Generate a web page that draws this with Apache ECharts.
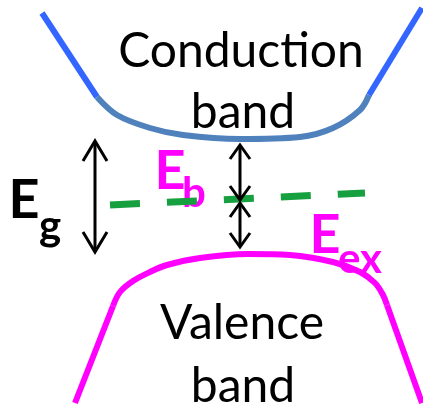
<!DOCTYPE html>
<html>
<head>
<meta charset="utf-8">
<script src="https://cdn.jsdelivr.net/npm/echarts@6/dist/echarts.min.js"></script>
<style>
  html, body { margin: 0; padding: 0; background: #fff; }
  #chart { width: 423px; height: 409px; }
</style>
</head>
<body>
<div id="chart"></div>
<script>
// band edges, in picture units (x to the right, y downwards)
const condLeft = [[42, 13], [97, 97]];
const condCurve = [[97, 97], [117, 115], [150, 128], [183, 135], [240, 139], [300, 137], [333, 128], [360, 110], [369, 95]];
const condRight = [[369, 95], [422, 8]];
const valLeft = [[75, 403], [113, 306]];
const valCurve = [[113, 306], [120, 292], [133, 281], [150, 272], [167, 265], [200, 258], [248, 254], [290, 255], [333, 262], [360, 272], [375, 283], [383, 295], [387, 305]];
const valRight = [[387, 305], [422, 403]];
// exciton level
const excitonLevel = [[110, 205], [365, 193]];
// double arrows: [x, yTop, yBottom]
const arrows = [[95, 141, 252], [240, 145, 200], [240, 203, 247]];
const arrowHeads = [[12, 20], [10, 14], [10, 14]]; // half width, length

const chart = echarts.init(document.getElementById('chart'));

function bandLine (data, color, smooth) {
  return {
    type: 'line',
    data: data,
    smooth: smooth ? 0.35 : false,
    symbol: 'none',
    silent: true,
    lineStyle: { color: color, width: 6, cap: 'butt' },
    z: 3
  };
}

const option = {
  animation: false,
  backgroundColor: '#fff',
  grid: { left: 0, right: 0, top: 0, bottom: 0 },
  xAxis: { type: 'value', min: 0, max: 423, show: false },
  yAxis: { type: 'value', min: 0, max: 409, inverse: true, show: false },
  graphic: [
    { type: 'text', x: 241, y: 52, z: 1, style: { text: 'Conduction', font: '48px Lato', fill: '#000', align: 'center', verticalAlign: 'middle' } },
    { type: 'text', x: 243, y: 113, z: 1, style: { text: 'band', font: '48px Lato', fill: '#000', align: 'center', verticalAlign: 'middle' } },
    { type: 'text', x: 242, y: 324, z: 1, style: { text: 'Valence', font: '48px Lato', fill: '#000', align: 'center', verticalAlign: 'middle' } },
    { type: 'text', x: 243, y: 387, z: 1, style: { text: 'band', font: '48px Lato', fill: '#000', align: 'center', verticalAlign: 'middle' } },
    // E_g
    { type: 'text', x: 24, y: 201, z: 1, style: { text: 'E', font: 'bold 54px Lato', fill: '#000', align: 'center', verticalAlign: 'middle' } },
    { type: 'text', x: 50, y: 226, z: 1, style: { text: 'g', font: 'bold 42px Lato', fill: '#000', align: 'center', verticalAlign: 'middle' } },
    // E_b
    { type: 'text', x: 170, y: 172, z: 1, style: { text: 'E', font: 'bold 54px Lato', fill: '#ff00ff', align: 'center', verticalAlign: 'middle' } },
    { type: 'text', x: 194, y: 193, z: 1, style: { text: 'b', font: 'bold 42px Lato', fill: '#ff00ff', align: 'center', verticalAlign: 'middle' } },
    // E_ex
    { type: 'text', x: 325, y: 236, z: 1, style: { text: 'E', font: 'bold 54px Lato', fill: '#ff00ff', align: 'center', verticalAlign: 'middle' } },
    { type: 'text', x: 360, y: 259, z: 1, style: { text: 'ex', font: 'bold 42px Lato', fill: '#ff00ff', align: 'center', verticalAlign: 'middle' } }
  ],
  series: [
    bandLine(condLeft, '#3366ff', false),
    bandLine(condCurve, '#4f81bd', true),
    bandLine(condRight, '#3366ff', false),
    bandLine(valLeft, '#ff00ff', false),
    bandLine(valCurve, '#ff00ff', true),
    bandLine(valRight, '#ff00ff', false),
    {
      type: 'line',
      data: excitonLevel,
      symbol: 'none',
      silent: true,
      lineStyle: { color: '#17a03f', width: 7, type: [30, 27], cap: 'butt' },
      z: 4
    },
    {
      type: 'custom',
      data: arrows,
      silent: true,
      z: 5,
      renderItem: function (params, api) {
        const top = api.coord([api.value(0), api.value(1)]);
        const bot = api.coord([api.value(0), api.value(2)]);
        const h = arrowHeads[params.dataIndex];
        const style = { stroke: '#000', lineWidth: 3, fill: null, lineJoin: 'miter' };
        return {
          type: 'group',
          children: [
            { type: 'line', shape: { x1: top[0], y1: top[1] + 1, x2: bot[0], y2: bot[1] - 1 }, style: style },
            { type: 'polyline', shape: { points: [[top[0] - h[0], top[1] + h[1]], [top[0], top[1]], [top[0] + h[0], top[1] + h[1]]] }, style: style },
            { type: 'polyline', shape: { points: [[bot[0] - h[0], bot[1] - h[1]], [bot[0], bot[1]], [bot[0] + h[0], bot[1] - h[1]]] }, style: style }
          ]
        };
      }
    }
  ]
};

option && chart.setOption(option);
</script>
</body>
</html>
